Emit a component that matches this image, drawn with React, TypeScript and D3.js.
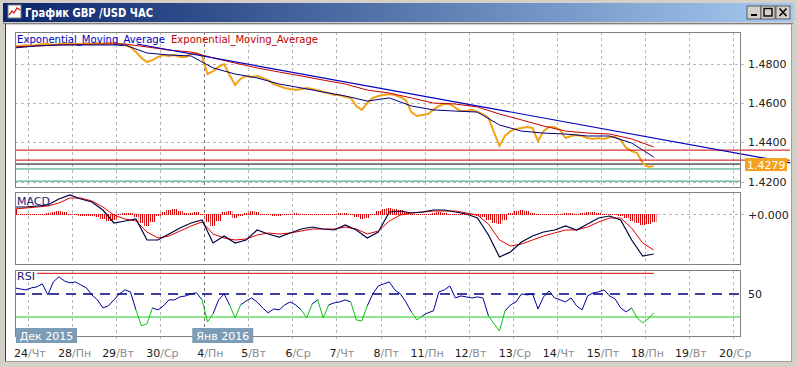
import React from 'react';
import * as d3 from 'd3';

// day grid (hourly chart, one gridline per trading day)
const DAY_NUMS = ['24', '28', '29', '30', '4', '5', '6', '7', '8', '11', '12', '13', '14', '15', '18', '19', '20'];
const DAY_NAMES = ['Чт', 'Пн', 'Вт', 'Ср', 'Пн', 'Вт', 'Ср', 'Чт', 'Пт', 'Пн', 'Вт', 'Ср', 'Чт', 'Пт', 'Пн', 'Вт', 'Ср'];
const YEAR_BREAK = 4;
const MONTHS = [
  { idx: 0, label: 'Дек 2015' },
  { idx: 4, label: 'Янв 2016' },
];

const PRICE_TICKS = [1.48, 1.46, 1.44, 1.42];
const PRICE_START = -0.3;
const PRICE_STEP = 0.125;
const PRICE = [
  1.4892, 1.4892, 1.4897, 1.4892, 1.4897, 1.4902, 1.4902, 1.4897, 1.4902, 1.4907,
  1.4902, 1.4902, 1.4902, 1.4907, 1.4902, 1.4907, 1.4902, 1.4907, 1.4907, 1.4902,
  1.4897, 1.4887, 1.4861, 1.4831, 1.4810, 1.4820, 1.4836, 1.4846, 1.4841, 1.4846,
  1.4836, 1.4836, 1.4851, 1.4856, 1.4841, 1.4749, 1.4764, 1.4785, 1.4800, 1.4744,
  1.4693, 1.4724, 1.4739, 1.4734, 1.4739, 1.4729, 1.4718, 1.4698, 1.4688, 1.4678,
  1.4673, 1.4667, 1.4673, 1.4678, 1.4673, 1.4667, 1.4657, 1.4652, 1.4642, 1.4642,
  1.4632, 1.4627, 1.4586, 1.4566, 1.4601, 1.4627, 1.4637, 1.4642, 1.4647, 1.4642,
  1.4632, 1.4616, 1.4555, 1.4535, 1.4540, 1.4545, 1.4566, 1.4586, 1.4596, 1.4596,
  1.4576, 1.4560, 1.4560, 1.4566, 1.4555, 1.4545, 1.4525, 1.4453, 1.4382, 1.4433,
  1.4458, 1.4469, 1.4474, 1.4479, 1.4474, 1.4407, 1.4458, 1.4479, 1.4479, 1.4464,
  1.4423, 1.4433, 1.4438, 1.4433, 1.4423, 1.4418, 1.4423, 1.4418, 1.4428, 1.4428,
  1.4413, 1.4372, 1.4356, 1.4346, 1.4295, 1.4276, 1.4279,
];
const LAST_PRICE = '1.4279';

const EMA_START = -0.3;
const EMA_STEP = 0.5;
const EMA_FAST = [
  1.4882, 1.4892, 1.4897, 1.4897, 1.4897, 1.4897, 1.4856, 1.4846, 1.4841, 1.4780,
  1.4749, 1.4729, 1.4698, 1.4678, 1.4657, 1.4637, 1.4611, 1.4627, 1.4586, 1.4566,
  1.4560, 1.4555, 1.4489, 1.4458, 1.4448, 1.4443, 1.4433, 1.4433, 1.4397, 1.4326,
];
const EMA_SLOW = [
  1.4887, 1.4892, 1.4897, 1.4900, 1.4902, 1.4902, 1.4887, 1.4871, 1.4861, 1.4831,
  1.4805, 1.4780, 1.4759, 1.4739, 1.4718, 1.4698, 1.4667, 1.4652, 1.4627, 1.4601,
  1.4596, 1.4581, 1.4545, 1.4515, 1.4484, 1.4458, 1.4448, 1.4443, 1.4418, 1.4377,
];
const TREND_DAYS = [2.47, 17.3];
const TREND_PRICES = [1.4902, 1.4296];
const RED_LEVELS = [1.4361, 1.431];
const BLACK_LEVEL = 1.429;
const TEAL_LEVELS = [1.4265, 1.4203];

const MACD_START = -0.3;
const MACD_STEP = 0.25;
const MACD_MAIN = [
  0.0007, 0.0007, 0.0008, 0.0009, 0.0015, 0.0019, 0.0015, 0.0012, 0.0004, -0.0009,
  -0.0007, -0.0005, -0.0026, -0.0026, -0.002, -0.0014, -0.0009, -0.0006, -0.0029, -0.0022,
  -0.0029, -0.0026, -0.0016, -0.002, -0.0023, -0.0019, -0.0015, -0.0013, -0.0015, -0.0016,
  -0.0011, -0.0016, -0.0024, -0.0018, 0.0002, 0.0003, 0.0001, 0.0002, 0.0004, 0.0004,
  0.0002, 0.0, -0.0004, -0.0021, -0.0043, -0.0038, -0.0028, -0.0022, -0.0018, -0.0016,
  -0.0012, -0.0016, -0.001, -0.0004, -0.0002, -0.0006, -0.0026, -0.0042, -0.004,
];
const MACD_SIGNAL = [
  0.0005, 0.0006, 0.0007, 0.0008, 0.0011, 0.0016, 0.0016, 0.0013, 0.0007, -0.0001,
  -0.0005, -0.0007, -0.0018, -0.0024, -0.0022, -0.0017, -0.0012, -0.0008, -0.002, -0.0024,
  -0.0026, -0.0025, -0.0021, -0.0019, -0.002, -0.0019, -0.0017, -0.0015, -0.0015, -0.0015,
  -0.0013, -0.0015, -0.002, -0.0017, -0.0007, -0.0001, 0.0001, 0.0002, 0.0003, 0.0003,
  0.0003, 0.0001, -0.0001, -0.001, -0.0026, -0.0032, -0.003, -0.0026, -0.0022, -0.0019,
  -0.0016, -0.0016, -0.0013, -0.0008, -0.0004, -0.0004, -0.0014, -0.0029, -0.0036,
];
const HIST_START = -0.3;
const HIST_STEP = 0.125;
const HIST = [
  0.0006, 0.0001, 0, -0.0001, -0.0001, 0, 0.0002, 0.0003, 0.0004, 0.0003,
  0.0001, -0.0001, -0.0002, -0.0002, -0.0002, -0.0003, -0.0005, -0.0007, -0.0006, -0.0001,
  0.0002, 0.0002, -0.0003, -0.0009, -0.0012, -0.0008, -0.0002, 0.0003, 0.0005, 0.0006,
  0.0004, 0.0002, 0.0002, 0.0003, 0.0001, -0.0008, -0.0012, -0.0007, 0.0003, 0.0004,
  -0.0004, -0.0002, 0.0002, 0.0004, 0.0003, 0.0001, -0.0001, -0.0002, -0.0002, -0.0001,
  0.0001, 0.0002, 0.0001, -0.0001, 0, 0.0001, -0.0001, 0, 0.0001, 0.0002,
  0.0002, 0.0001, -0.0003, -0.0005, -0.0004, 0.0001, 0.0004, 0.0006, 0.0007, 0.0006,
  0.0005, 0.0003, 0.0001, -0.0001, 0, 0.0001, 0.0002, 0.0003, 0.0002, 0.0001,
  0, 0.0001, 0, -0.0001, -0.0002, -0.0003, -0.0006, -0.0009, -0.001, -0.0006,
  0.0002, 0.0004, 0.0005, 0.0004, 0.0002, -0.0001, 0, 0.0001, 0.0001, 0,
  0.0002, 0.0002, 0.0001, 0.0002, 0.0003, 0.0003, 0.0002, 0.0001, -0.0001, -0.0001,
  -0.0002, -0.0004, -0.0007, -0.0009, -0.0011, -0.001, -0.0008,
];

const RSI_START = -0.3;
const RSI_STEP = 0.125;
const RSI = [
  55.3, 54.4, 53.6, 55.3, 56.2, 58.8, 49.2, 60.5, 64.9, 61.4,
  59.7, 60.5, 57.9, 55.3, 49.2, 44.9, 37.9, 39.7, 44.9, 50.1,
  53.6, 51.8, 36.2, 22.3, 24.1, 37.9, 36.2, 39.7, 44.9, 44.9,
  47.5, 48.3, 50.1, 51.0, 44.9, 25.7, 32.7, 44.9, 50.1, 40.5,
  29.2, 40.5, 44.0, 46.6, 43.1, 37.9, 33.6, 37.0, 36.2, 40.5,
  43.1, 40.5, 36.2, 29.2, 41.4, 44.9, 29.2, 40.5, 42.3, 43.1,
  44.9, 43.1, 27.5, 26.6, 39.7, 50.1, 57.0, 58.8, 60.5, 53.6,
  50.1, 43.1, 34.4, 27.5, 31.0, 33.6, 35.3, 51.8, 53.6, 57.0,
  46.6, 48.3, 47.5, 46.6, 47.5, 46.6, 31.0, 24.1, 17.9, 35.3,
  40.5, 43.1, 50.1, 49.2, 50.1, 37.0, 47.5, 52.7, 46.6, 44.9,
  43.1, 46.6, 39.7, 36.2, 48.3, 51.0, 51.8, 53.6, 48.3, 45.7,
  37.9, 34.4, 37.9, 29.2, 24.9, 28.3, 33.6,
];
const RSI_HIGH = 68;
const RSI_MID = 50;
const RSI_LOW = 30;

const W = 797;
const H = 367;
const FONT = 'DejaVu Sans, Verdana, sans-serif';

const App: React.FC = () => {
  const left = 15;
  const right = 740;
  const main = { top: 32, bottom: 187 };
  const macd = { top: 192, bottom: 264 };
  const rsi = { top: 270, bottom: 336 };

  const x = d3.scaleLinear().domain([0, DAY_NUMS.length - 1]).range([28, 733]);
  const yP = d3.scaleLinear().domain([1.42, 1.48]).range([181.7, 64]);
  const yM = d3.scaleLinear().domain([0, 0.001]).range([214, 204]);
  const yR = d3.scaleLinear().domain([RSI_LOW, RSI_MID]).range([317, 294]);

  const series = (vals: number[], start: number, step: number, y: d3.ScaleLinear<number, number>) =>
    d3.line<number>()
      .x((_, i) => x(start + i * step))
      .y(d => y(d))(vals) || '';

  const gridDays = DAY_NUMS.map((_, i) => i);
  const panels = [main, macd, rsi];

  const rsiX = (i: number) => x(RSI_START + i * RSI_STEP);
  const priceEndX = x(PRICE_START + (PRICE.length - 1) * PRICE_STEP);
  const rsiFirstX = x(RSI_START);
  const histW = x(HIST_STEP) - x(0);

  return (
    <svg width={W} height={H} style={{ position: 'absolute', left: 0, top: 0 }} fontFamily={FONT}>
      <defs>
        <linearGradient id="title" x1="0" x2="1" y1="0" y2="0">
          <stop offset="0" stopColor="#0a246a" />
          <stop offset="1" stopColor="#a6caf0" />
        </linearGradient>
        <pattern id="stripes" patternUnits="userSpaceOnUse" width={2} height={4}>
          <rect x={0} y={0} width={1} height={4} fill="#d80000" />
        </pattern>
        {panels.map((p, i) => (
          <clipPath id={`clip${i}`} key={i}>
            <rect x={left} y={p.top} width={right - left} height={p.bottom - p.top} />
          </clipPath>
        ))}
      </defs>

      {/* window frame */}
      <rect x={0} y={0} width={W} height={H} fill="#d4d0c8" />
      <rect x={3} y={3} width={W - 6} height={19} fill="url(#title)" />
      <rect x={6} y={25} width={785} height={336} fill="#ffffff" />
      <line x1={5.5} y1={23} x2={5.5} y2={362} stroke="#404040" />
      <line x1={3} y1={23.5} x2={793} y2={23.5} stroke="#808080" />
      <line x1={791.5} y1={24} x2={791.5} y2={362} stroke="#a0a0a0" />
      <line x1={5} y1={361.5} x2={792} y2={361.5} stroke="#a0a0a0" />

      {/* title bar */}
      <rect x={8} y={5} width={13} height={13} fill="#ffffff" stroke="#7a7a7a" />
      <polyline points="9,15 12,11 14,13 17,8 20,10" fill="none" stroke="#d02020" strokeWidth={1.3} />
      <text x={25} y={17} fill="#ffffff" fontWeight="bold" fontSize={12} textLength={128} lengthAdjust="spacingAndGlyphs">
        График GBP /USD  ЧАС
      </text>
      {[747, 761, 776].map((bx, i) => (
        <g key={i}>
          <rect x={bx} y={6} width={14} height={13} fill="#d4d0c8" stroke="#404040" strokeWidth={0.8} />
          {i === 0 && <rect x={bx + 4} y={14} width={6} height={2} fill="#000" />}
          {i === 1 && <rect x={bx + 3} y={8.5} width={8} height={7.5} fill="none" stroke="#000" strokeWidth={1.4} />}
          {i === 2 && (
            <path d={`M${bx + 3.5},${8.5}L${bx + 10.5},${16}M${bx + 10.5},${8.5}L${bx + 3.5},${16}`} stroke="#000" strokeWidth={1.6} />
          )}
        </g>
      ))}

      {/* vertical day grid */}
      {panels.map((p, pi) => (
        <g key={pi}>
          {gridDays.map(d => (
            <line
              key={d}
              x1={Math.round(x(d)) + 0.5}
              x2={Math.round(x(d)) + 0.5}
              y1={p.top}
              y2={pi === 2 ? p.bottom + 4 : p.bottom}
              stroke={d === YEAR_BREAK ? '#707070' : '#b8b8b8'}
              strokeDasharray="3,3"
            />
          ))}
        </g>
      ))}

      {/* main price panel */}
      {PRICE_TICKS.map(t => (
        <g key={t}>
          <line x1={left} x2={746} y1={Math.round(yP(t)) + 0.5} y2={Math.round(yP(t)) + 0.5} stroke="#b8b8b8" strokeDasharray="3,3" />
          <text x={748} y={yP(t) + 4} fontSize={11} fill="#202020">{t.toFixed(4)}</text>
        </g>
      ))}
      <g clipPath="url(#clip0)">
        {TEAL_LEVELS.map(l => (
          <line key={l} x1={left} x2={right} y1={yP(l)} y2={yP(l)} stroke="#2f9a7e" />
        ))}
        <line x1={left} x2={right} y1={yP(BLACK_LEVEL)} y2={yP(BLACK_LEVEL)} stroke="#000000" />
        <path d={series(PRICE, PRICE_START, PRICE_STEP, yP)} fill="none" stroke="#f0a318" strokeWidth={2} strokeLinejoin="miter" />
        <path d={series(EMA_SLOW, EMA_START, EMA_STEP, yP)} fill="none" stroke="#c80000" strokeWidth={1} />
        <path d={series(EMA_FAST, EMA_START, EMA_STEP, yP)} fill="none" stroke="#000080" strokeWidth={1} />
      </g>
      {RED_LEVELS.map(l => (
        <line key={l} x1={left} x2={790} y1={yP(l)} y2={yP(l)} stroke="#d00000" />
      ))}
      <line
        x1={x(TREND_DAYS[0])} y1={yP(TREND_PRICES[0])}
        x2={x(TREND_DAYS[1])} y2={yP(TREND_PRICES[1])}
        stroke="#0000c0" strokeWidth={1.2}
      />
      <rect x={745} y={yP(BLACK_LEVEL) - 6} width={42} height={13} fill="#f2a21e" />
      <text x={747} y={yP(BLACK_LEVEL) + 4.5} fontSize={11} fill="#ffffff">{LAST_PRICE}</text>
      <text x={17} y={43} fontSize={10.5} fill="#0000c0" textLength={148} lengthAdjust="spacingAndGlyphs">Exponential_Moving_Average</text>
      <text x={171} y={43} fontSize={10.5} fill="#c00000" textLength={147} lengthAdjust="spacingAndGlyphs">Exponential_Moving_Average</text>

      {/* MACD panel */}
      <line x1={left} x2={746} y1={yM(0) + 0.5} y2={yM(0) + 0.5} stroke="#b8b8b8" strokeDasharray="3,3" />
      <text x={748} y={yM(0) + 5} fontSize={11} fill="#202020">+0.000</text>
      <g clipPath="url(#clip1)">
        {HIST.map((v, i) => {
          const y0 = yM(0);
          const y1 = yM(v);
          const h = Math.max(1, Math.abs(y1 - y0));
          return (
            <rect key={i} x={x(HIST_START + i * HIST_STEP) - histW / 2} y={v >= 0 ? y0 - h + 1 : y0} width={histW} height={h} fill="url(#stripes)" />
          );
        })}
        <path d={series(MACD_SIGNAL, MACD_START, MACD_STEP, yM)} fill="none" stroke="#e00000" strokeWidth={1} />
        <path d={series(MACD_MAIN, MACD_START, MACD_STEP, yM)} fill="none" stroke="#000040" strokeWidth={1.2} />
      </g>
      <text x={17} y={205} fontSize={11} fill="#202070">MACD</text>

      {/* RSI panel */}
      <g clipPath="url(#clip2)">
        <line x1={left} x2={right} y1={yR(RSI_LOW)} y2={yR(RSI_LOW)} stroke="#22cc22" />
        <line x1={rsiFirstX} x2={priceEndX} y1={yR(RSI_HIGH)} y2={yR(RSI_HIGH)} stroke="#d00000" />
        {RSI.slice(1).map((v, i) => {
          const a = RSI[i];
          const low = Math.min(a, v) < RSI_LOW;
          return (
            <line key={i} x1={rsiX(i)} y1={yR(a)} x2={rsiX(i + 1)} y2={yR(v)} stroke={low ? '#10c010' : '#0000a0'} strokeWidth={1} />
          );
        })}
      </g>
      <line x1={left} x2={744} y1={yR(RSI_MID)} y2={yR(RSI_MID)} stroke="#000080" strokeWidth={1.3} strokeDasharray="10,7" />
      <text x={748} y={yR(RSI_MID) + 4} fontSize={11} fill="#202020">50</text>
      <rect x={16} y={271} width={21} height={10} fill="#ffffff" />
      <text x={17} y={280} fontSize={11} fill="#202070">RSI</text>

      {/* panel borders */}
      {panels.map((p, pi) => (
        <rect key={pi} x={left + 0.5} y={p.top + 0.5} width={right - left} height={p.bottom - p.top} fill="none" stroke="#808080" />
      ))}

      {/* month boxes */}
      {MONTHS.map(m => (
        <g key={m.label}>
          <rect x={x(m.idx) - 12} y={328} width={61} height={15} fill="#7c9cb7" />
          <text x={x(m.idx) + 18.5} y={340} fontSize={11} fill="#ffffff" textAnchor="middle">{m.label}</text>
        </g>
      ))}

      {/* day labels */}
      {gridDays.map(d => (
        <text key={d} y={357} fontSize={11}>
          <tspan x={x(d)} textAnchor="end" fill="#202020">{DAY_NUMS[d]}</tspan>
          <tspan x={x(d)} fill="#8c8c8c">/{DAY_NAMES[d]}</tspan>
        </text>
      ))}
    </svg>
  );
};

export default App;
